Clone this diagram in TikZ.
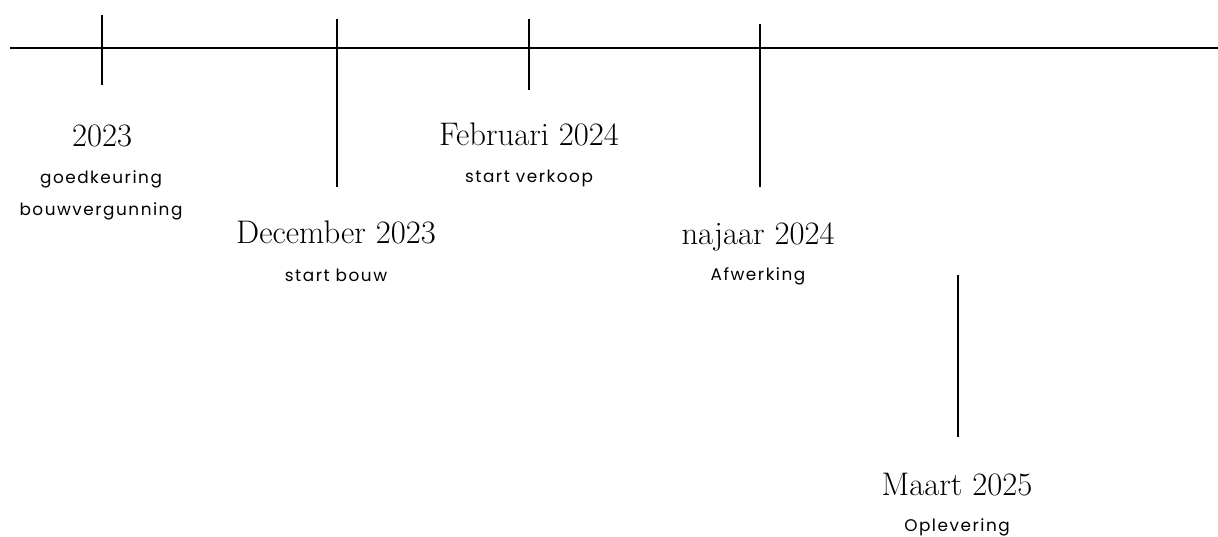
\documentclass[tikz,border=0pt]{standalone}
\usepackage{fontspec}
\newfontfamily\notefont[LetterSpace=9]{Poppins}
\usetikzlibrary{positioning}

\begin{document}
\begin{tikzpicture}[x=0.02cm,y=-0.02cm,line width=1.15pt,
  year/.style={font=\fontsize{18.6}{22}\selectfont,inner sep=0pt,anchor=base},
  note/.style={font=\notefont\fontsize{9.6}{12}\selectfont,inner sep=0pt,anchor=base}]
\useasboundingbox (0,0) rectangle (1218,537);
% time axis
\coordinate (axisL) at (10,48);
\coordinate (axisR) at (1218,48);
\draw (axisL) -- (axisR);
% ticks
\coordinate (t1a) at (102,15);  \coordinate (t1b) at (102,85);
\coordinate (t2a) at (337,19);  \coordinate (t2b) at (337,187);
\coordinate (t3a) at (529,19);  \coordinate (t3b) at (529,90);
\coordinate (t4a) at (760,24);  \coordinate (t4b) at (760,187);
\coordinate (t5a) at (958,275); \coordinate (t5b) at (958,437);
\draw (t1a) -- (t1b);
\draw (t2a) -- (t2b);
\draw (t3a) -- (t3b);
\draw (t4a) -- (t4b);
\draw (t5a) -- (t5b);
% labels
\node[year] (y1) at (102,147) {2023};
\node[note] (n1a) at (101,184) {goedkeuring};
\node[note] (n1b) at (101,215) {bouwvergunning};
\node[year] (y2) at (336,243) {December 2023};
\node[note] (n2) at (336,281) {start bouw};
\node[year] (y3) at (529,146) {Februari 2024};
\node[note] (n3) at (529,183) {start verkoop};
\node[year] (y4) at (758,244) {najaar 2024};
\node[note] (n4) at (758,280) {Afwerking};
\node[year] (y5) at (957,495) {Maart 2025};
\node[note] (n5) at (957,531) {Oplevering};
\end{tikzpicture}
\end{document}
